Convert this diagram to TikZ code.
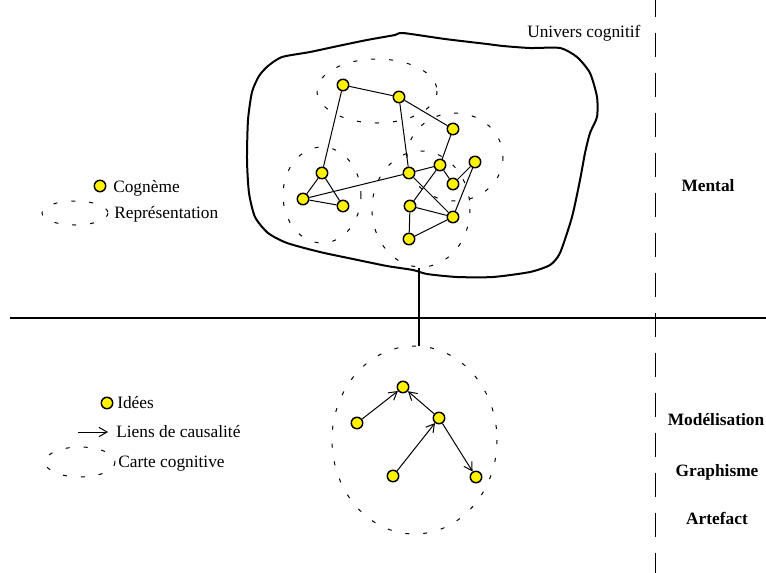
\documentclass[tikz,border=0pt]{standalone}
\usepackage{fontspec}
\setmainfont{Liberation Serif}
\usetikzlibrary{arrows.meta}
\begin{document}
\begin{tikzpicture}[x=0.75pt,y=-0.75pt,
 cog/.style={circle,draw,line width=1.1pt,fill=yellow,minimum size=8.6pt,inner sep=0pt},
 lk/.style={line width=0.75pt},
 arr/.style={line width=0.75pt,-{Straight Barb[length=6pt,width=7pt]}},
 rep/.style={dash pattern=on 3pt off 10.5pt,line width=0.75pt},
 txt/.style={font=\fontsize{13}{15}\selectfont,inner sep=0pt,anchor=base west},
 lbl/.style={font=\fontsize{13}{15}\selectfont\bfseries,inner sep=0pt,anchor=base},
 sep/.style={line width=1.1pt},
 vsep/.style={line width=0.75pt,dash pattern=on 18pt off 12pt},
 blob/.style={line width=1.5pt},
]
\useasboundingbox[fill=white] (0,0) rectangle (766,572);

% separators
\draw[sep] (10,318) -- (766,318);
\draw[vsep] (655,-7) -- (655,580);

% univers cognitif (blob)
\draw[blob] plot[smooth cycle,tension=0.4] coordinates {
 (282,57) (310,52) (338,46) (367,40) (395,35) (403,33) (445,39) (487,44) (503,46) (530,48)
 (560,48) (577,57) (590,73) (597,97) (597,117) (590,133) (585,153) (580,180)
 (572,217) (560,253) (550,265) (530,272) (493,277) (457,277) (427,274) (413,270)
 (387,266) (353,259) (320,252) (287,243) (268,233) (255,217) (249,193) (247,160)
 (248,120) (252,92) (259,76) (268,66)};

% representations
\draw[rep] (377,91) ellipse [x radius=60, y radius=32];
\draw[rep] (322,195) ellipse [x radius=39, y radius=48];
\draw[rep] (455,157) ellipse [x radius=48, y radius=44];
\draw[rep] (421,209) ellipse [x radius=49, y radius=58];

% cognemes
\node[cog] (c1) at (343,85) {};
\node[cog] (c2) at (399,97) {};
\node[cog] (c3) at (453,129) {};
\node[cog] (c4) at (440,165) {};
\node[cog] (c5) at (475,162) {};
\node[cog] (c6) at (409,173) {};
\node[cog] (c7) at (453,184) {};
\node[cog] (c8) at (322,173) {};
\node[cog] (c9) at (303,199) {};
\node[cog] (c10) at (343,206) {};
\node[cog] (c11) at (410,206) {};
\node[cog] (c12) at (453,217) {};
\node[cog] (c13) at (409,239) {};

\draw[lk] (c1) -- (c2);
\draw[lk] (c1) -- (c8);
\draw[lk] (c2) -- (c3);
\draw[lk] (c2) -- (c6);
\draw[lk] (c3) -- (c4);
\draw[lk] (c4) -- (c6);
\draw[lk] (c4) -- (c7);
\draw[lk] (c4) -- (c11);
\draw[lk] (c5) -- (c7);
\draw[lk] (c5) -- (c12);
\draw[lk] (c6) -- (c12);
\draw[lk] (c6) -- (c9);
\draw[lk] (c8) -- (c9);
\draw[lk] (c8) -- (c10);
\draw[lk] (c9) -- (c10);
\draw[lk] (c11) -- (c12);
\draw[lk] (c11) -- (c13);
\draw[lk] (c13) -- (c12);

% link mental -> artefact
\coordinate (u1) at (419,268);
\coordinate (u2) at (419,346);
\draw[sep] (u1) -- (u2);

% carte cognitive
\draw[rep] (414.5,440) ellipse [x radius=82.5, y radius=94];
\node[cog] (i1) at (403,387) {};
\node[cog] (i2) at (357,423) {};
\node[cog] (i3) at (439,418) {};
\node[cog] (i4) at (393,476) {};
\node[cog] (i5) at (476,477) {};
\draw[arr] (i2) -- (i1);
\draw[arr] (i3) -- (i1);
\draw[arr] (i4) -- (i3);
\draw[arr] (i3) -- (i5);

% legend top
\node[cog] (lc) at (100,186) {};
\node[txt] (tc) at (113,192) {Cognème};
\draw[rep] (75,213) ellipse [x radius=33, y radius=12];
\node[txt] (tr) at (114,218) {Représentation};

% legend bottom
\node[cog] (li) at (107,403) {};
\node[txt] (ti) at (117,408) {Idées};
\coordinate (la1) at (78,432);
\coordinate (la2) at (108,432);
\draw[arr] (la1) -- (la2);
\node[txt] (tl) at (116,437) {Liens de causalité};
\draw[rep] (80,462) ellipse [x radius=35, y radius=15];
\node[txt] (tcc) at (118,467) {Carte cognitive};

% labels
\node[txt] (tu) at (527,37) {Univers cognitif};
\node[lbl] (lm) at (708,191) {Mental};
\node[lbl] (lmo) at (716,425) {Modélisation};
\node[lbl] (lg) at (717,476) {Graphisme};
\node[lbl] (la) at (717,524) {Artefact};
\end{tikzpicture}
\end{document}
